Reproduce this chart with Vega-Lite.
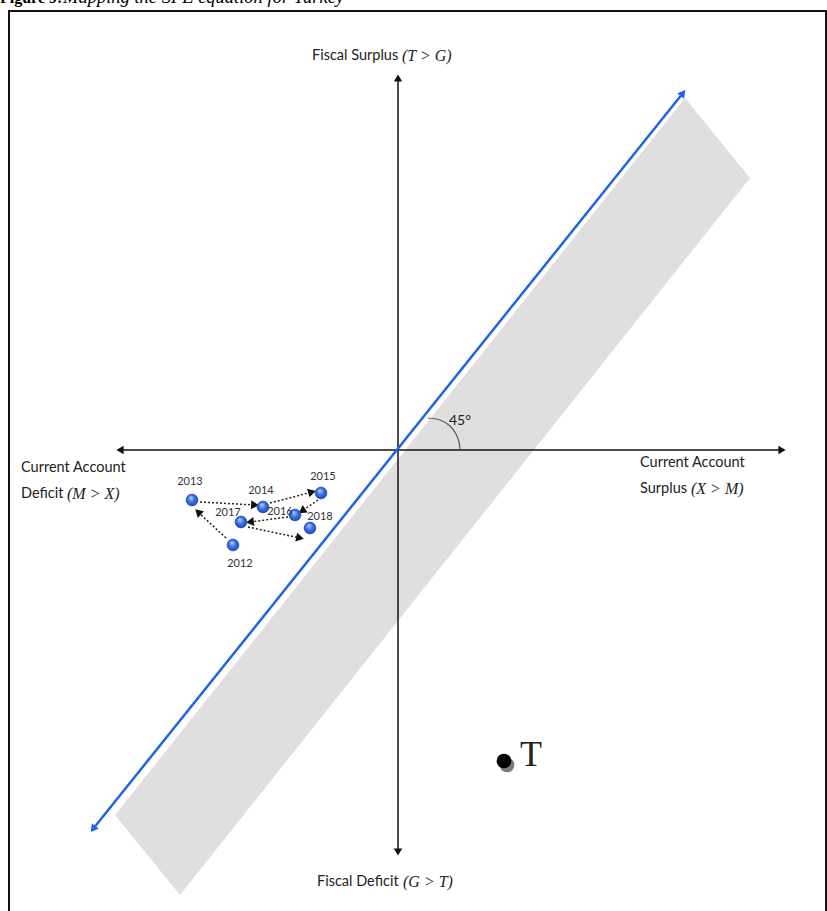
{
  "$schema": "https://vega.github.io/schema/vega-lite/v6.json",
  "width": 827,
  "height": 911,
  "autosize": {"type": "none"},
  "padding": 0,
  "background": "white",
  "config": {"view": {"stroke": null}},
  "datasets": {
    "frame": [{"x": -389, "y": 439, "x2": 428, "y2": -470}],
    "band": [
      {"y": 352, "x": 287, "x2": 287},
      {"y": 272, "x": 223.4, "x2": 352},
      {"y": -365, "x": -283, "x2": -154.4},
      {"y": -445, "x": -218, "x2": -218}
    ],
    "segments": [
      {"kind": "axis", "heads": "both", "x": -278, "y": 0, "x2": 384, "y2": 0},
      {"kind": "axis", "heads": "both", "x": 0, "y": -402, "x2": 0, "y2": 372},
      {"kind": "diag", "heads": "both", "x": -305, "y": -379, "x2": 285, "y2": 357},
      {"kind": "path", "heads": "end", "x": -172, "y": -88, "x2": -200, "y2": -62},
      {"kind": "path", "heads": "end", "x": -198, "y": -52, "x2": -143, "y2": -55},
      {"kind": "path", "heads": "end", "x": -128, "y": -53, "x2": -86, "y2": -42},
      {"kind": "path", "heads": "end", "x": -80, "y": -50, "x2": -96, "y2": -61},
      {"kind": "path", "heads": "end", "x": -110, "y": -67, "x2": -148, "y2": -72},
      {"kind": "path", "heads": "end", "x": -150, "y": -77, "x2": -98, "y2": -88}
    ],
    "arc": [
      {"x": 30, "y": 32}, {"x": 42, "y": 30}, {"x": 52, "y": 24},
      {"x": 58, "y": 16}, {"x": 61, "y": 8}, {"x": 62, "y": 0}
    ],
    "words": [
      {"x": -86, "y": 394, "label": "Fiscal Surplus"},
      {"x": -81, "y": -432, "label": "Fiscal Deficit"},
      {"x": -377, "y": -18, "label": "Current Account"},
      {"x": -377, "y": -44, "label": "Deficit"},
      {"x": 242, "y": -13, "label": "Current Account"},
      {"x": 242, "y": -39, "label": "Surplus"}
    ],
    "math": [
      {"x": 4, "y": 394, "label": "(T > G)"},
      {"x": 5, "y": -432, "label": "(G > T)"},
      {"x": -331, "y": -44, "label": "(M > X)"},
      {"x": 293, "y": -39, "label": "(X > M)"}
    ],
    "angle": [{"x": 62, "y": 29, "label": "45°"}],
    "years": [
      {"year": "2012", "x": -165, "y": -95, "lx": -158, "ly": -114},
      {"year": "2013", "x": -206, "y": -50, "lx": -208, "ly": -32},
      {"year": "2014", "x": -135, "y": -57, "lx": -137, "ly": -41},
      {"year": "2015", "x": -77, "y": -43, "lx": -75, "ly": -27},
      {"year": "2016", "x": -103, "y": -65, "lx": -118, "ly": -62},
      {"year": "2017", "x": -157, "y": -72, "lx": -170, "ly": -63},
      {"year": "2018", "x": -88, "y": -78, "lx": -78, "ly": -67}
    ],
    "turkey": [{"x": 106, "y": -311, "sx": 109, "sy": -315, "lx": 122, "ly": -305, "label": "T"}],
    "title": [
      {"x": -398, "y": 447, "label": "Figure 9:", "part": "bold"},
      {"x": -335, "y": 447, "label": "Mapping the SPE equation for Turkey", "part": "italic"}
    ]
  },
  "encoding": {
    "x": {"field": "x", "type": "quantitative", "scale": {"domain": [-398, 429], "nice": false, "zero": false}, "axis": null},
    "y": {"field": "y", "type": "quantitative", "scale": {"domain": [-461, 450], "nice": false, "zero": false}, "axis": null}
  },
  "layer": [
    {
      "data": {"name": "band"},
      "mark": {"type": "area", "orient": "horizontal", "color": "#dfdfdf"},
      "encoding": {"x2": {"field": "x2"}}
    },
    {
      "data": {"name": "frame"},
      "mark": {"type": "rect", "fill": null, "stroke": "#111111", "strokeWidth": 2},
      "encoding": {"x2": {"field": "x2"}, "y2": {"field": "y2"}}
    },
    {
      "data": {"name": "segments"},
      "transform": [{"filter": "datum.kind == 'axis'"}],
      "mark": {"type": "rule", "color": "#111111", "strokeWidth": 1.5},
      "encoding": {"x2": {"field": "x2"}, "y2": {"field": "y2"}}
    },
    {
      "data": {"name": "segments"},
      "transform": [{"filter": "datum.kind == 'diag'"}],
      "mark": {"type": "rule", "color": "#1f64e6", "strokeWidth": 2.5},
      "encoding": {"x2": {"field": "x2"}, "y2": {"field": "y2"}}
    },
    {
      "data": {"name": "segments"},
      "transform": [{"filter": "datum.kind == 'path'"}],
      "mark": {"type": "rule", "color": "#222222", "strokeWidth": 1.5, "strokeDash": [2, 2]},
      "encoding": {"x2": {"field": "x2"}, "y2": {"field": "y2"}}
    },
    {
      "data": {"name": "segments"},
      "transform": [
        {"calculate": "atan2(datum.x2 - datum.x, datum.y2 - datum.y) * 180 / PI", "as": "ang"},
        {"calculate": "datum.x2", "as": "hx"},
        {"calculate": "datum.y2", "as": "hy"}
      ],
      "mark": {"type": "point", "shape": "triangle-up", "filled": true, "opacity": 1},
      "encoding": {
        "x": {"field": "hx", "type": "quantitative"},
        "y": {"field": "hy", "type": "quantitative"},
        "angle": {"field": "ang", "type": "quantitative", "scale": null},
        "color": {"field": "kind", "type": "nominal", "scale": {"domain": ["axis", "diag", "path"], "range": ["#111111", "#1f64e6", "#111111"]}, "legend": null},
        "size": {"field": "kind", "type": "nominal", "scale": {"domain": ["axis", "diag", "path"], "range": [70, 80, 50]}, "legend": null}
      }
    },
    {
      "data": {"name": "segments"},
      "transform": [
        {"filter": "datum.heads == 'both'"},
        {"calculate": "atan2(datum.x - datum.x2, datum.y - datum.y2) * 180 / PI", "as": "ang"}
      ],
      "mark": {"type": "point", "shape": "triangle-up", "filled": true, "opacity": 1},
      "encoding": {
        "angle": {"field": "ang", "type": "quantitative", "scale": null},
        "color": {"field": "kind", "type": "nominal", "scale": {"domain": ["axis", "diag", "path"], "range": ["#111111", "#1f64e6", "#111111"]}, "legend": null},
        "size": {"field": "kind", "type": "nominal", "scale": {"domain": ["axis", "diag", "path"], "range": [70, 80, 50]}, "legend": null}
      }
    },
    {
      "data": {"name": "arc"},
      "mark": {"type": "line", "color": "#555555", "strokeWidth": 1.2, "interpolate": "cardinal"},
      "encoding": {}
    },
    {
      "data": {"name": "angle"},
      "mark": {"type": "text", "font": "Lato", "fontSize": 14, "color": "#222222", "align": "center", "baseline": "middle"},
      "encoding": {"text": {"field": "label"}}
    },
    {
      "data": {"name": "words"},
      "mark": {"type": "text", "font": "Lato", "fontSize": 14.5, "color": "#222222", "align": "left", "baseline": "middle"},
      "encoding": {"text": {"field": "label"}}
    },
    {
      "data": {"name": "math"},
      "mark": {"type": "text", "font": "Liberation Serif", "fontSize": 16, "fontStyle": "italic", "color": "#222222", "align": "left", "baseline": "middle"},
      "encoding": {"text": {"field": "label"}}
    },
    {
      "data": {"name": "years"},
      "mark": {"type": "point", "shape": "circle", "filled": true, "opacity": 1, "size": 140, "stroke": "#1a3a9c", "strokeWidth": 0.6,
        "fill": {"gradient": "radial", "x1": 0.4, "y1": 0.3, "r1": 0.02, "x2": 0.5, "y2": 0.5, "r2": 0.6,
          "stops": [{"offset": 0, "color": "#b5cbff"}, {"offset": 0.45, "color": "#3c72ea"}, {"offset": 1, "color": "#1a3fae"}]}},
      "encoding": {}
    },
    {
      "data": {"name": "years"},
      "mark": {"type": "text", "font": "Lato", "fontSize": 11, "color": "#333333", "align": "center", "baseline": "middle"},
      "encoding": {
        "x": {"field": "lx", "type": "quantitative"},
        "y": {"field": "ly", "type": "quantitative"},
        "text": {"field": "year"}
      }
    },
    {
      "data": {"name": "turkey"},
      "mark": {"type": "point", "shape": "circle", "filled": true, "opacity": 1, "size": 216, "color": "#7a7a7a"},
      "encoding": {
        "x": {"field": "sx", "type": "quantitative"},
        "y": {"field": "sy", "type": "quantitative"}
      }
    },
    {
      "data": {"name": "turkey"},
      "mark": {"type": "point", "shape": "circle", "filled": true, "opacity": 1, "size": 216, "color": "#000000"},
      "encoding": {}
    },
    {
      "data": {"name": "turkey"},
      "mark": {"type": "text", "font": "Liberation Serif", "fontSize": 36, "color": "#222222", "align": "left", "baseline": "middle"},
      "encoding": {
        "x": {"field": "lx", "type": "quantitative"},
        "y": {"field": "ly", "type": "quantitative"},
        "text": {"field": "label"}
      }
    },
    {
      "data": {"name": "title"},
      "transform": [{"filter": "datum.part == 'bold'"}],
      "mark": {"type": "text", "font": "Liberation Serif", "fontSize": 16, "fontWeight": "bold", "color": "#000000", "align": "left", "baseline": "alphabetic"},
      "encoding": {"text": {"field": "label"}}
    },
    {
      "data": {"name": "title"},
      "transform": [{"filter": "datum.part == 'italic'"}],
      "mark": {"type": "text", "font": "Liberation Serif", "fontSize": 18.5, "fontStyle": "italic", "color": "#000000", "align": "left", "baseline": "alphabetic"},
      "encoding": {"text": {"field": "label"}}
    }
  ]
}
